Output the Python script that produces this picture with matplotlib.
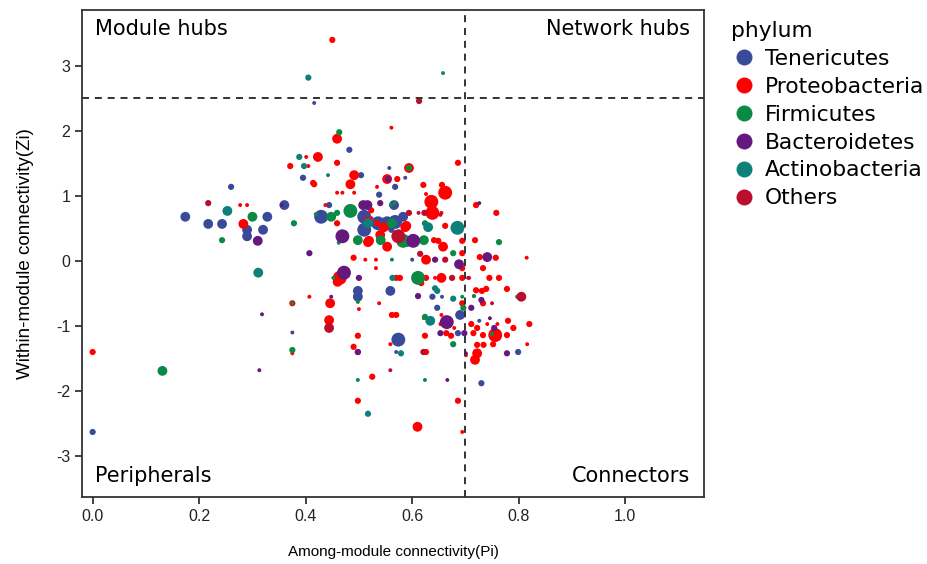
import matplotlib
matplotlib.use("Agg")
import matplotlib.pyplot as plt
from matplotlib.lines import Line2D

# (Pi, Zi, node size level)
tenericutes = [
    (0.0, -2.63, 2), (0.416, 2.43, 1), (0.482, 1.71, 2), (0.395, 1.28, 2), (0.504, 1.32, 2),
    (0.26, 1.14, 2), (0.557, 1.43, 1), (0.568, 1.14, 2), (0.538, 1.02, 2), (0.566, 0.86, 3),
    (0.36, 0.86, 3), (0.174, 0.68, 3), (0.217, 0.57, 3), (0.243, 0.57, 3), (0.328, 0.68, 3),
    (0.29, 0.48, 3), (0.32, 0.48, 3), (0.29, 0.38, 3), (0.429, 0.68, 4), (0.51, 0.48, 4),
    (0.51, 0.68, 4), (0.444, 0.86, 2), (0.536, 0.58, 4), (0.553, 0.58, 4), (0.568, 0.6, 4),
    (0.583, 0.68, 3), (0.561, 0.48, 2), (0.664, 1.08, 2), (0.6, 0.02, 1), (0.498, -0.46, 3),
    (0.498, -0.55, 3), (0.559, -0.46, 3), (0.638, -0.55, 2), (0.647, -0.72, 2), (0.69, -0.83, 3),
    (0.375, -1.1, 1), (0.574, -1.21, 4), (0.57, -1.40, 1), (0.686, -1.11, 2), (0.656, -0.55, 1),
    (0.726, -0.92, 1), (0.799, -1.40, 2), (0.73, -1.88, 2), (0.692, 0.51, 1), (0.587, 1.28, 1),
]
proteobacteria = [
    (0.0, -1.40, 2), (0.45, 3.40, 2), (0.561, 2.05, 1), (0.459, 1.88, 3), (0.401, 1.60, 1),
    (0.423, 1.60, 3), (0.371, 1.46, 2), (0.405, 1.46, 1), (0.459, 1.51, 2), (0.491, 1.32, 3),
    (0.416, 1.18, 2), (0.484, 1.18, 3), (0.594, 1.43, 3), (0.459, 1.05, 1), (0.469, 1.05, 1),
    (0.491, 1.05, 1), (0.553, 1.26, 3), (0.572, 1.26, 2), (0.534, 1.14, 1), (0.277, 0.86, 1),
    (0.29, 0.86, 1), (0.283, 0.57, 3), (0.459, 0.58, 2), (0.519, 0.31, 3), (0.686, 1.51, 2),
    (0.621, 1.17, 2), (0.656, 1.17, 2), (0.662, 1.05, 4), (0.626, 1.03, 1), (0.636, 0.91, 4),
    (0.638, 0.74, 4), (0.655, 0.74, 1), (0.523, 0.78, 2), (0.437, 0.86, 1), (0.512, 0.65, 1),
    (0.523, 0.66, 1), (0.547, 0.52, 3), (0.534, 0.58, 2), (0.587, 0.52, 3), (0.54, 0.40, 3),
    (0.517, 0.29, 3), (0.553, 0.22, 3), (0.641, 0.32, 2), (0.658, 0.22, 3), (0.662, 0.54, 2),
    (0.696, 0.31, 1), (0.720, 0.86, 2), (0.758, 0.74, 2), (0.589, 0.54, 3), (0.649, 0.31, 2),
    (0.694, 0.31, 2), (0.718, 0.32, 2), (0.694, 0.12, 2), (0.727, 0.06, 2), (0.757, 0.05, 2),
    (0.815, 0.05, 1), (0.626, 0.02, 3), (0.694, -0.11, 2), (0.733, -0.11, 2), (0.49, 0.05, 2),
    (0.512, 0.02, 1), (0.532, 0.02, 1), (0.532, -0.11, 1), (0.464, -0.26, 4), (0.46, -0.32, 3),
    (0.57, -0.26, 2), (0.577, -0.26, 2), (0.626, -0.26, 2), (0.617, -0.34, 2), (0.643, -0.26, 1),
    (0.655, -0.26, 3), (0.673, -0.26, 1), (0.694, -0.26, 2), (0.707, -0.26, 1), (0.745, -0.26, 2),
    (0.763, -0.26, 2), (0.778, -0.43, 2), (0.72, -0.45, 2), (0.731, -0.46, 2), (0.739, -0.43, 2),
    (0.716, -0.54, 1), (0.733, -0.65, 2), (0.694, -0.65, 2), (0.5, -0.74, 1), (0.407, -0.55, 1),
    (0.446, -0.65, 3), (0.375, -0.65, 2), (0.538, -0.65, 1), (0.562, -0.83, 2), (0.57, -0.83, 2),
    (0.655, -0.83, 1), (0.673, -1.15, 2), (0.679, -1.03, 1), (0.444, -0.91, 3), (0.498, -1.15, 2),
    (0.624, -1.15, 2), (0.559, -1.28, 1), (0.49, -1.32, 2), (0.498, -1.40, 2), (0.375, -1.42, 1),
    (0.626, -1.40, 2), (0.701, -1.45, 1), (0.525, -1.78, 2), (0.498, -2.15, 2), (0.686, -2.15, 2),
    (0.61, -2.55, 3), (0.694, -2.63, 1), (0.711, -0.97, 2), (0.741, -0.97, 1), (0.76, -0.97, 1),
    (0.78, -0.92, 2), (0.82, -0.97, 2), (0.722, -1.03, 2), (0.756, -1.14, 4), (0.733, -1.14, 2),
    (0.715, -1.11, 2), (0.79, -1.03, 2), (0.778, -1.14, 2), (0.816, -1.28, 1), (0.722, -1.29, 2),
    (0.734, -1.29, 2), (0.752, -1.28, 2), (0.722, -1.42, 3), (0.718, -1.52, 3), (0.664, -1.11, 2),
    (0.653, -0.97, 1), (0.622, -0.88, 1), (0.414, 1.20, 2),
]
firmicutes = [
    (0.131, -1.69, 3), (0.463, 1.98, 2), (0.594, 1.43, 2), (0.567, 0.89, 1), (0.30, 0.68, 3),
    (0.378, 0.58, 2), (0.448, 0.68, 3), (0.419, 0.72, 1), (0.459, 0.74, 2), (0.484, 0.77, 4),
    (0.243, 0.32, 2), (0.462, 0.28, 1), (0.562, 0.58, 3), (0.498, 0.32, 3), (0.541, 0.32, 3),
    (0.583, 0.31, 4), (0.59, 0.29, 3), (0.622, 0.32, 3), (0.624, 0.58, 2), (0.677, 0.12, 2),
    (0.763, 0.29, 2), (0.56, 0.86, 1), (0.452, -0.26, 1), (0.611, -0.26, 4), (0.498, -0.63, 1),
    (0.562, 0.02, 1), (0.694, -0.55, 1), (0.696, -0.72, 2), (0.624, -0.86, 2), (0.375, -0.65, 1),
    (0.375, -1.37, 2), (0.498, -1.83, 1), (0.624, -1.83, 1), (0.677, -1.28, 2), (0.716, -0.54, 1),
    (0.797, -0.55, 1), (0.75, -1.12, 1),
]
bacteroidetes = [
    (0.318, -0.82, 1), (0.313, -1.68, 1), (0.31, 0.31, 3), (0.469, 0.38, 4), (0.508, 0.86, 3),
    (0.516, 0.86, 3), (0.54, 0.89, 2), (0.555, 1.26, 2), (0.355, 0.86, 1), (0.602, 0.31, 4),
    (0.407, 0.12, 2), (0.643, 0.02, 2), (0.688, -0.05, 3), (0.741, 0.06, 3), (0.726, 0.89, 1),
    (0.472, -0.18, 4), (0.5, -0.26, 2), (0.448, -0.55, 1), (0.611, -0.54, 2), (0.665, -0.94, 4),
    (0.698, -1.11, 2), (0.498, -1.40, 2), (0.666, -1.83, 1), (0.73, -0.6, 2), (0.711, -0.72, 2),
    (0.746, -0.88, 1), (0.754, -1.03, 2), (0.778, -1.42, 2), (0.701, -1.42, 1), (0.653, -1.11, 2),
]
actinobacteria = [
    (0.405, 2.82, 2), (0.658, 2.89, 1), (0.388, 1.60, 2), (0.397, 1.46, 2), (0.442, 1.32, 1),
    (0.253, 0.77, 3), (0.311, -0.18, 3), (0.517, 0.58, 3), (0.685, 0.51, 4), (0.63, 0.52, 3),
    (0.563, -0.26, 2), (0.643, -0.42, 2), (0.647, -0.46, 2), (0.677, -0.58, 2), (0.634, -0.92, 3),
    (0.579, -1.42, 2), (0.517, -2.35, 2),
]
others = [
    (0.613, 2.46, 2), (0.217, 0.89, 2), (0.594, 0.74, 2), (0.623, 0.74, 2), (0.612, 0.74, 1),
    (0.574, 0.38, 4), (0.653, 0.71, 1), (0.662, 0.02, 2), (0.615, 0.11, 2), (0.675, -0.26, 2),
    (0.805, -0.55, 3), (0.75, -0.65, 1), (0.444, -1.03, 3), (0.621, -1.40, 2), (0.559, -1.68, 1),
    (0.705, -0.26, 1),
]

phyla = ["Tenericutes", "Proteobacteria", "Firmicutes", "Bacteroidetes", "Actinobacteria", "Others"]
groups = [tenericutes, proteobacteria, firmicutes, bacteroidetes, actinobacteria, others]
colors = ["#3a4a9b", "#ff0000", "#0b8a46", "#66187f", "#0e807a", "#bb0e2e"]
size_map = {1: 8, 2: 20, 3: 50, 4: 100}

fig = plt.figure(figsize=(9.28, 5.64), dpi=100)
ax = fig.add_axes([82 / 928, 67 / 564, 622 / 928, 487 / 564])

for pts, col in zip(groups, colors):
    ax.scatter([p[0] for p in pts], [p[1] for p in pts],
               s=[size_map[p[2]] for p in pts], c=col, linewidths=0, zorder=3)

# thresholds
ax.axvline(0.7, color="#333333", ls=(0, (3.6, 3)), lw=1.4, zorder=4)
ax.axhline(2.5, color="#333333", ls=(0, (3.6, 3)), lw=1.4, zorder=4)

ax.set_xlim(-0.02, 1.148)
ax.set_ylim(-3.63, 3.86)
ax.set_xticks([0.0, 0.2, 0.4, 0.6, 0.8, 1.0])
ax.set_yticks([-3, -2, -1, 0, 1, 2, 3])
ax.set_xticklabels(["0.0", "0.2", "0.4", "0.6", "0.8", "1.0"], family="Liberation Sans")
ax.set_yticklabels(["-3", "-2", "-1", "0", "1", "2", "3"], family="Liberation Sans")
ax.tick_params(direction="out", length=5, width=1.2, labelsize=11.5, colors="#222222")
for sp in ax.spines.values():
    sp.set_linewidth(1.3)
    sp.set_color("#333333")

ax.set_xlabel("Among-module connectivity(Pi)", fontsize=11, family="Liberation Sans", labelpad=15)
ax.set_ylabel("Within-module connectivity(Zi)", fontsize=13.5, family="Liberation Sans", labelpad=16)

qkw = dict(transform=ax.transAxes, fontsize=15, va="center")
ax.text(0.021, 0.961, "Module hubs", ha="left", **qkw)
ax.text(0.977, 0.961, "Network hubs", ha="right", **qkw)
ax.text(0.021, 0.043, "Peripherals", ha="left", **qkw)
ax.text(0.977, 0.043, "Connectors", ha="right", **qkw)

handles = [Line2D([], [], marker="o", ls="", markersize=11.5, color=c, markeredgewidth=0)
           for c in colors]
fig.legend(handles, phyla, title="phylum", loc="upper left",
           bbox_to_anchor=(0.7705, 0.9904), frameon=False, fontsize=15.7, title_fontsize=15.7,
           alignment="left", labelspacing=0.36, handletextpad=0.37, handlelength=1.2,
           borderpad=0.72, borderaxespad=0)

fig.savefig("out.png", dpi=100)
